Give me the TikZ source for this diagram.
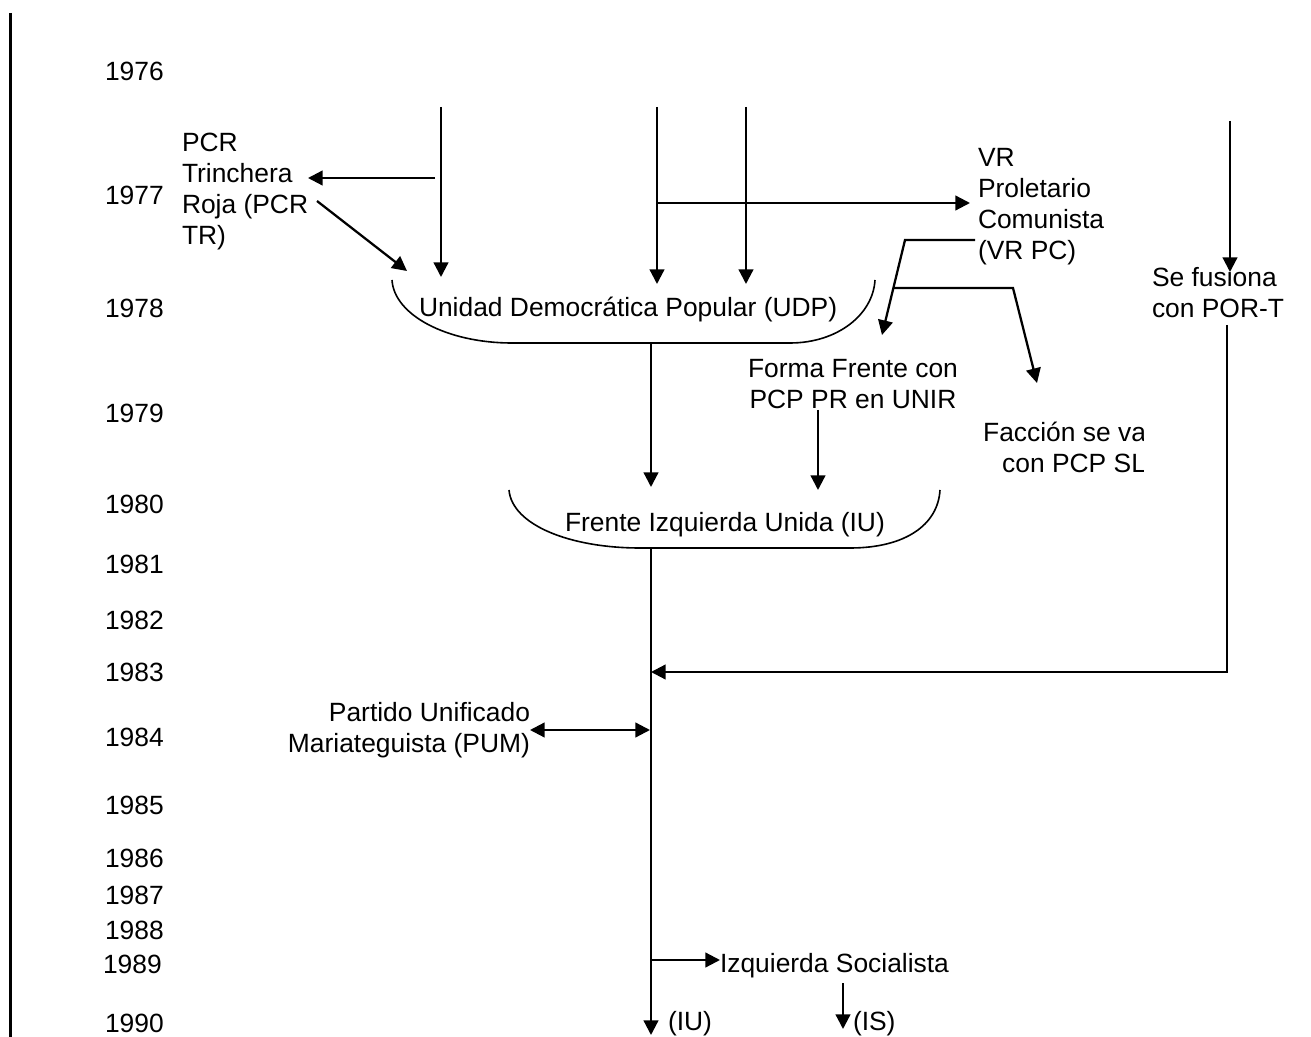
\documentclass[tikz,border=0pt]{standalone}
\usepackage{fontspec}
\setmainfont{Liberation Sans}
\usetikzlibrary{arrows.meta}
\newcommand{\mlines}[2]{\begin{tabular}[t]{@{}#1@{}}#2\end{tabular}}
\tikzset{
  conn/.style={line width=1.7pt, -{Triangle[length=11pt,width=11pt]}},
  dconn/.style={line width=1.7pt, {Triangle[length=11pt,width=11pt]}-{Triangle[length=11pt,width=11pt]}},
  bracket/.style={line width=1.2pt},
  txt/.style={inner sep=0pt, outer sep=0pt, font=\fontsize{19.8}{23.25}\selectfont},
  yr/.style={txt, anchor=base west},
}
\begin{document}
\begin{tikzpicture}[x=0.75pt,y=-0.75pt]
\useasboundingbox (0,0) rectangle (1311,1037);
% left bar
\coordinate (bart) at (10.5,13);
\coordinate (barb) at (10.5,1037);
\draw[line width=2.25pt] (bart) -- (barb);

% years
\foreach \yr/\yb in {1976/81,1977/205,1978/318,1979/423,1980/514,1981/574,1982/629,1983/681,1984/746,1985/814,1986/867,1987/904,1988/939,1990/1032}
  \node[yr] (y\yr) at (105,\yb) {\yr};
\node[yr] (y1989) at (103,973) {1989};

% text nodes
\node[txt, anchor=base west] (pcr) at (182,152) {\mlines{l}{PCR\\Trinchera\\Roja (PCR\\TR)}};
\node[txt, anchor=base west] (vr) at (978,167) {\mlines{l}{VR\\Proletario\\Comunista\\(VR PC)}};
\node[txt, anchor=base west] (udp) at (419,317) {Unidad Democrática Popular (UDP)};
\node[txt, anchor=base] (unir) at (853,378) {\mlines{c}{Forma Frente con\\PCP PR en UNIR}};
\node[txt, anchor=base west] (iu) at (565,532) {Frente Izquierda Unida (IU)};
\node[txt, anchor=base west] (por) at (1152,287) {\mlines{l}{Se fusiona\\con POR-T}};
\node[txt, anchor=base east] (pum) at (530,721) {\mlines{r}{Partido Unificado\\Mariateguista (PUM)}};
\node[txt, anchor=base west] (is) at (720,972) {Izquierda Socialista};
\node[txt, anchor=base west] (iuend) at (668,1030) {(IU)};
\node[txt, anchor=base west] (isend) at (853,1030) {(IS)};
\begin{scope}
  \clip (900,400) rectangle (1143,500);
  \node[txt, anchor=base east] (sl) at (1146,442) {\mlines{r}{Facción se va\\con PCP SL}};
\end{scope}

% brackets
\draw[bracket] (392,280) .. controls (394,315) and (447,343) .. (512,343)
  -- (790,343) .. controls (837,343) and (873,315) .. (875,280);
\draw[bracket] (509,490) .. controls (512,525) and (570,548) .. (640,548)
  -- (850,548) .. controls (905,548) and (938,525) .. (940,490);

% coordinates
\coordinate (a1s) at (441,107);   \coordinate (a1e) at (441,277);
\coordinate (a2s) at (435,178);   \coordinate (a2e) at (308,178);
\coordinate (a3s) at (317,201);   \coordinate (a3e) at (407,271);
\coordinate (a4s) at (657,107);   \coordinate (a4e) at (657,284);
\coordinate (a5s) at (746,107);   \coordinate (a5e) at (746,284);
\coordinate (a6s) at (657,203);   \coordinate (a6e) at (970,203);
\coordinate (a7s) at (975,240);   \coordinate (a7m) at (905,240);   \coordinate (a7e) at (882,335);
\coordinate (a8s) at (893.5,288); \coordinate (a8m) at (1013,288);  \coordinate (a8e) at (1037,383);
\coordinate (a9s) at (651,343);   \coordinate (a9e) at (651,487);
\coordinate (a10s) at (818,410);  \coordinate (a10e) at (818,490);
\coordinate (a11s) at (651,548);  \coordinate (a11e) at (651,1035);
\coordinate (a12s) at (1230,121); \coordinate (a12e) at (1230,272);
\coordinate (a13s) at (1227,325); \coordinate (a13m) at (1227,672); \coordinate (a13e) at (651,672);
\coordinate (a14s) at (530,730);  \coordinate (a14e) at (650,730);
\coordinate (a15s) at (651,960);  \coordinate (a15e) at (720,960);
\coordinate (a16s) at (843,983);  \coordinate (a16e) at (843,1029);

% connectors
\draw[conn] (a1s) -- (a1e);
\draw[conn] (a2s) -- (a2e);
\draw[conn] (a3s) -- (a3e);
\draw[conn] (a4s) -- (a4e);
\draw[conn] (a5s) -- (a5e);
\draw[conn] (a6s) -- (a6e);
\draw[conn] (a7s) -- (a7m) -- (a7e);
\draw[conn] (a8s) -- (a8m) -- (a8e);
\draw[conn] (a9s) -- (a9e);
\draw[conn] (a10s) -- (a10e);
\draw[conn] (a11s) -- (a11e);
\draw[conn] (a12s) -- (a12e);
\draw[conn] (a13s) -- (a13m) -- (a13e);
\draw[dconn] (a14s) -- (a14e);
\draw[conn] (a15s) -- (a15e);
\draw[conn] (a16s) -- (a16e);
\end{tikzpicture}
\end{document}
